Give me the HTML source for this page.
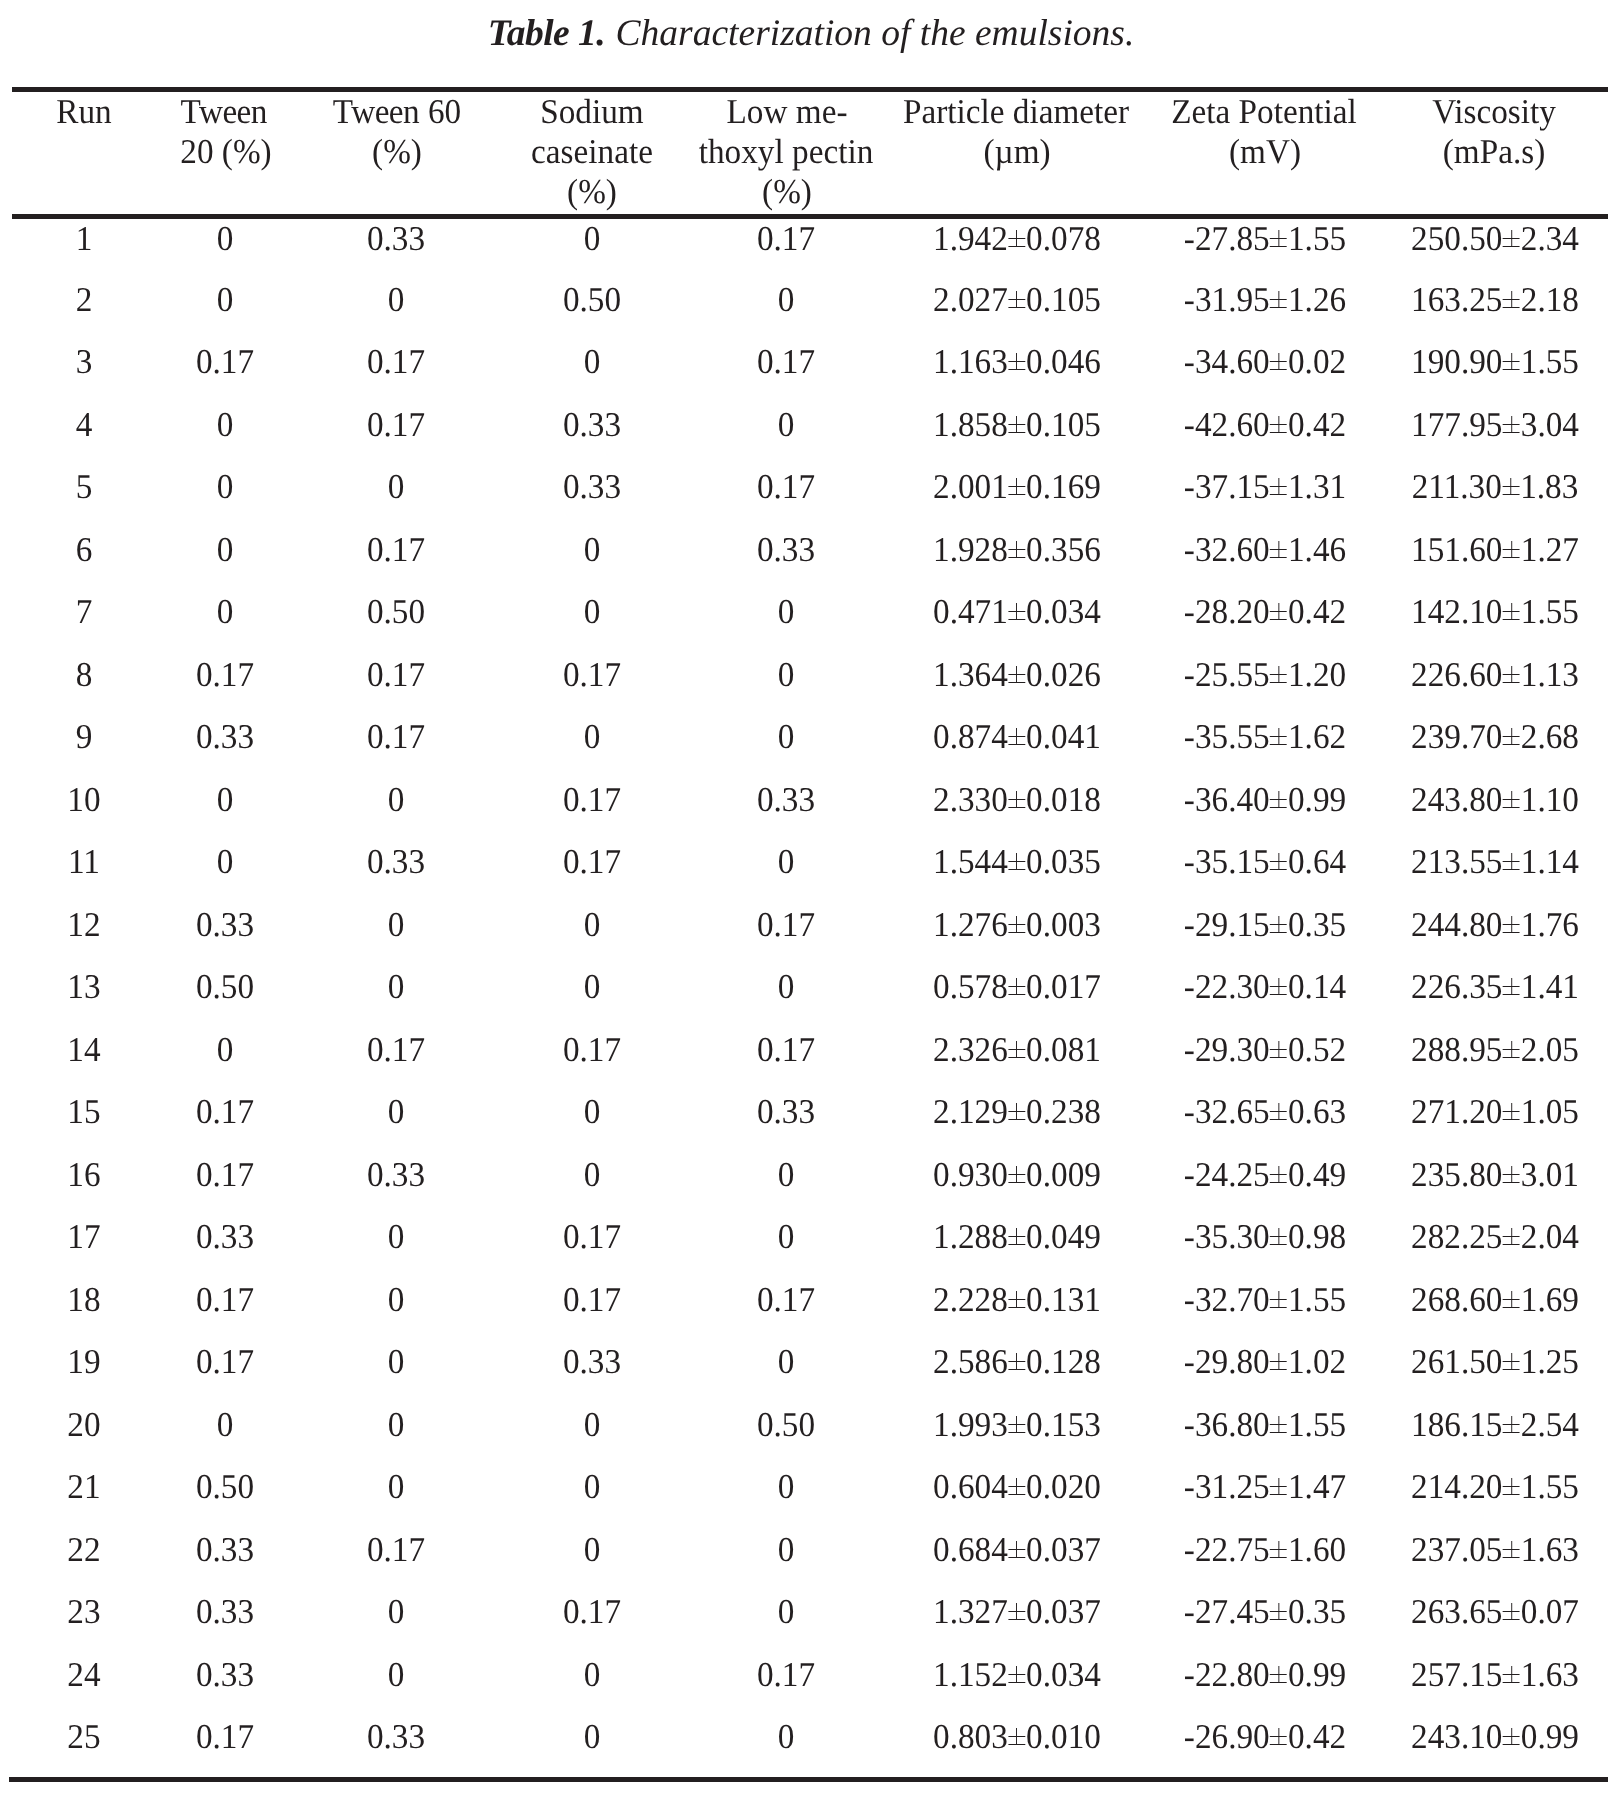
<!DOCTYPE html>
<html><head><meta charset="utf-8"><title>Table 1</title>
<style>
html,body{margin:0;padding:0;background:#fff;overflow:hidden;}
body{width:1616px;height:1817px;position:relative;overflow:hidden;
 font-family:"Liberation Serif",serif;color:#231f20;text-rendering:geometricPrecision;}
#w{position:absolute;left:0;top:0;width:1616px;height:1817px;overflow:hidden;will-change:transform;}
.t{position:absolute;width:400px;margin-left:-200px;text-align:center;white-space:nowrap;
 font-size:34.8px;line-height:41px;height:41px;transform:scaleX(0.9555);transform-origin:50% 50%;}
.r{position:absolute;background:#231f20;height:5px;}
.pm{color:transparent;background:
 linear-gradient(#231f20,#231f20) 8.7px 10.95px/1.15px 17.1px no-repeat,
 linear-gradient(#231f20,#231f20) 0.4px 18.85px/17.7px 1.1px no-repeat,
 linear-gradient(#231f20,#231f20) 0.4px 26.95px/17.7px 1.1px no-repeat;}
#cap{position:absolute;left:3px;width:1616px;text-align:center;white-space:nowrap;
 font-size:37.5px;line-height:44px;top:12px;font-style:italic;}
#cap b{font-weight:bold;letter-spacing:-0.5px;margin-right:1px;}
</style></head><body><div id="w">
<div id="cap"><b>Table 1.</b> Characterization of the emulsions.</div>
<div class="r" style="left:12px;top:87px;width:1596px"></div>
<div class="r" style="left:12px;top:214px;width:1596px"></div>
<div class="r" style="left:9px;top:1777px;width:1599px"></div>
<div class="t" style="left:84.1px;top:91.00px">Run</div>
<div class="t" style="left:223.9px;top:91.00px"><span style="letter-spacing:-2px">T</span><span style="letter-spacing:-0.6px">wee</span>n</div>
<div class="t" style="left:225.7px;top:131.00px">20 (%)</div>
<div class="t" style="left:396.5px;top:91.00px"><span style="letter-spacing:-2px">T</span><span style="letter-spacing:-0.6px">wee</span>n 60</div>
<div class="t" style="left:396.9px;top:131.00px">(%)</div>
<div class="t" style="left:591.8px;top:91.00px">Sodium</div>
<div class="t" style="left:592.2px;top:131.00px">caseinate</div>
<div class="t" style="left:592.1px;top:171.00px">(%)</div>
<div class="t" style="left:786.7px;top:91.00px">Low me-</div>
<div class="t" style="left:786.4px;top:131.00px">thoxyl pectin</div>
<div class="t" style="left:787.4px;top:171.00px">(%)</div>
<div class="t" style="left:1016.3px;top:91.00px">Particle diameter</div>
<div class="t" style="left:1017.0px;top:131.00px">(µm)</div>
<div class="t" style="left:1264.3px;top:91.00px">Zeta Potential</div>
<div class="t" style="left:1265.0px;top:131.00px">(mV)</div>
<div class="t" style="left:1494.2px;top:91.00px">Viscosity</div>
<div class="t" style="left:1494.3px;top:131.00px">(mPa.s)</div>
<div class="t" style="left:83.7px;top:218.00px">1</div>
<div class="t" style="left:225.0px;top:218.00px">0</div>
<div class="t" style="left:396.0px;top:218.00px">0.33</div>
<div class="t" style="left:592.2px;top:218.00px">0</div>
<div class="t" style="left:786.0px;top:218.00px">0.17</div>
<div class="t" style="left:1017.0px;top:218.00px">1.942<span class="pm">±</span>0.078</div>
<div class="t" style="left:1265.0px;top:218.00px">-27.85<span class="pm">±</span>1.55</div>
<div class="t" style="left:1495.0px;top:218.00px">250.50<span class="pm">±</span>2.34</div>
<div class="t" style="left:83.7px;top:279.00px">2</div>
<div class="t" style="left:225.0px;top:279.00px">0</div>
<div class="t" style="left:396.0px;top:279.00px">0</div>
<div class="t" style="left:592.2px;top:279.00px">0.50</div>
<div class="t" style="left:786.0px;top:279.00px">0</div>
<div class="t" style="left:1017.0px;top:279.00px">2.027<span class="pm">±</span>0.105</div>
<div class="t" style="left:1265.0px;top:279.00px">-31.95<span class="pm">±</span>1.26</div>
<div class="t" style="left:1495.0px;top:279.00px">163.25<span class="pm">±</span>2.18</div>
<div class="t" style="left:83.7px;top:341.00px">3</div>
<div class="t" style="left:225.0px;top:341.00px">0.17</div>
<div class="t" style="left:396.0px;top:341.00px">0.17</div>
<div class="t" style="left:592.2px;top:341.00px">0</div>
<div class="t" style="left:786.0px;top:341.00px">0.17</div>
<div class="t" style="left:1017.0px;top:341.00px">1.163<span class="pm">±</span>0.046</div>
<div class="t" style="left:1265.0px;top:341.00px">-34.60<span class="pm">±</span>0.02</div>
<div class="t" style="left:1495.0px;top:341.00px">190.90<span class="pm">±</span>1.55</div>
<div class="t" style="left:83.7px;top:404.00px">4</div>
<div class="t" style="left:225.0px;top:404.00px">0</div>
<div class="t" style="left:396.0px;top:404.00px">0.17</div>
<div class="t" style="left:592.2px;top:404.00px">0.33</div>
<div class="t" style="left:786.0px;top:404.00px">0</div>
<div class="t" style="left:1017.0px;top:404.00px">1.858<span class="pm">±</span>0.105</div>
<div class="t" style="left:1265.0px;top:404.00px">-42.60<span class="pm">±</span>0.42</div>
<div class="t" style="left:1495.0px;top:404.00px">177.95<span class="pm">±</span>3.04</div>
<div class="t" style="left:83.7px;top:466.00px">5</div>
<div class="t" style="left:225.0px;top:466.00px">0</div>
<div class="t" style="left:396.0px;top:466.00px">0</div>
<div class="t" style="left:592.2px;top:466.00px">0.33</div>
<div class="t" style="left:786.0px;top:466.00px">0.17</div>
<div class="t" style="left:1017.0px;top:466.00px">2.001<span class="pm">±</span>0.169</div>
<div class="t" style="left:1265.0px;top:466.00px">-37.15<span class="pm">±</span>1.31</div>
<div class="t" style="left:1495.0px;top:466.00px">211.30<span class="pm">±</span>1.83</div>
<div class="t" style="left:83.7px;top:529.00px">6</div>
<div class="t" style="left:225.0px;top:529.00px">0</div>
<div class="t" style="left:396.0px;top:529.00px">0.17</div>
<div class="t" style="left:592.2px;top:529.00px">0</div>
<div class="t" style="left:786.0px;top:529.00px">0.33</div>
<div class="t" style="left:1017.0px;top:529.00px">1.928<span class="pm">±</span>0.356</div>
<div class="t" style="left:1265.0px;top:529.00px">-32.60<span class="pm">±</span>1.46</div>
<div class="t" style="left:1495.0px;top:529.00px">151.60<span class="pm">±</span>1.27</div>
<div class="t" style="left:83.7px;top:591.00px">7</div>
<div class="t" style="left:225.0px;top:591.00px">0</div>
<div class="t" style="left:396.0px;top:591.00px">0.50</div>
<div class="t" style="left:592.2px;top:591.00px">0</div>
<div class="t" style="left:786.0px;top:591.00px">0</div>
<div class="t" style="left:1017.0px;top:591.00px">0.471<span class="pm">±</span>0.034</div>
<div class="t" style="left:1265.0px;top:591.00px">-28.20<span class="pm">±</span>0.42</div>
<div class="t" style="left:1495.0px;top:591.00px">142.10<span class="pm">±</span>1.55</div>
<div class="t" style="left:83.7px;top:654.00px">8</div>
<div class="t" style="left:225.0px;top:654.00px">0.17</div>
<div class="t" style="left:396.0px;top:654.00px">0.17</div>
<div class="t" style="left:592.2px;top:654.00px">0.17</div>
<div class="t" style="left:786.0px;top:654.00px">0</div>
<div class="t" style="left:1017.0px;top:654.00px">1.364<span class="pm">±</span>0.026</div>
<div class="t" style="left:1265.0px;top:654.00px">-25.55<span class="pm">±</span>1.20</div>
<div class="t" style="left:1495.0px;top:654.00px">226.60<span class="pm">±</span>1.13</div>
<div class="t" style="left:83.7px;top:716.00px">9</div>
<div class="t" style="left:225.0px;top:716.00px">0.33</div>
<div class="t" style="left:396.0px;top:716.00px">0.17</div>
<div class="t" style="left:592.2px;top:716.00px">0</div>
<div class="t" style="left:786.0px;top:716.00px">0</div>
<div class="t" style="left:1017.0px;top:716.00px">0.874<span class="pm">±</span>0.041</div>
<div class="t" style="left:1265.0px;top:716.00px">-35.55<span class="pm">±</span>1.62</div>
<div class="t" style="left:1495.0px;top:716.00px">239.70<span class="pm">±</span>2.68</div>
<div class="t" style="left:83.7px;top:779.00px">10</div>
<div class="t" style="left:225.0px;top:779.00px">0</div>
<div class="t" style="left:396.0px;top:779.00px">0</div>
<div class="t" style="left:592.2px;top:779.00px">0.17</div>
<div class="t" style="left:786.0px;top:779.00px">0.33</div>
<div class="t" style="left:1017.0px;top:779.00px">2.330<span class="pm">±</span>0.018</div>
<div class="t" style="left:1265.0px;top:779.00px">-36.40<span class="pm">±</span>0.99</div>
<div class="t" style="left:1495.0px;top:779.00px">243.80<span class="pm">±</span>1.10</div>
<div class="t" style="left:83.7px;top:841.00px">11</div>
<div class="t" style="left:225.0px;top:841.00px">0</div>
<div class="t" style="left:396.0px;top:841.00px">0.33</div>
<div class="t" style="left:592.2px;top:841.00px">0.17</div>
<div class="t" style="left:786.0px;top:841.00px">0</div>
<div class="t" style="left:1017.0px;top:841.00px">1.544<span class="pm">±</span>0.035</div>
<div class="t" style="left:1265.0px;top:841.00px">-35.15<span class="pm">±</span>0.64</div>
<div class="t" style="left:1495.0px;top:841.00px">213.55<span class="pm">±</span>1.14</div>
<div class="t" style="left:83.7px;top:904.00px">12</div>
<div class="t" style="left:225.0px;top:904.00px">0.33</div>
<div class="t" style="left:396.0px;top:904.00px">0</div>
<div class="t" style="left:592.2px;top:904.00px">0</div>
<div class="t" style="left:786.0px;top:904.00px">0.17</div>
<div class="t" style="left:1017.0px;top:904.00px">1.276<span class="pm">±</span>0.003</div>
<div class="t" style="left:1265.0px;top:904.00px">-29.15<span class="pm">±</span>0.35</div>
<div class="t" style="left:1495.0px;top:904.00px">244.80<span class="pm">±</span>1.76</div>
<div class="t" style="left:83.7px;top:966.00px">13</div>
<div class="t" style="left:225.0px;top:966.00px">0.50</div>
<div class="t" style="left:396.0px;top:966.00px">0</div>
<div class="t" style="left:592.2px;top:966.00px">0</div>
<div class="t" style="left:786.0px;top:966.00px">0</div>
<div class="t" style="left:1017.0px;top:966.00px">0.578<span class="pm">±</span>0.017</div>
<div class="t" style="left:1265.0px;top:966.00px">-22.30<span class="pm">±</span>0.14</div>
<div class="t" style="left:1495.0px;top:966.00px">226.35<span class="pm">±</span>1.41</div>
<div class="t" style="left:83.7px;top:1029.00px">14</div>
<div class="t" style="left:225.0px;top:1029.00px">0</div>
<div class="t" style="left:396.0px;top:1029.00px">0.17</div>
<div class="t" style="left:592.2px;top:1029.00px">0.17</div>
<div class="t" style="left:786.0px;top:1029.00px">0.17</div>
<div class="t" style="left:1017.0px;top:1029.00px">2.326<span class="pm">±</span>0.081</div>
<div class="t" style="left:1265.0px;top:1029.00px">-29.30<span class="pm">±</span>0.52</div>
<div class="t" style="left:1495.0px;top:1029.00px">288.95<span class="pm">±</span>2.05</div>
<div class="t" style="left:83.7px;top:1091.00px">15</div>
<div class="t" style="left:225.0px;top:1091.00px">0.17</div>
<div class="t" style="left:396.0px;top:1091.00px">0</div>
<div class="t" style="left:592.2px;top:1091.00px">0</div>
<div class="t" style="left:786.0px;top:1091.00px">0.33</div>
<div class="t" style="left:1017.0px;top:1091.00px">2.129<span class="pm">±</span>0.238</div>
<div class="t" style="left:1265.0px;top:1091.00px">-32.65<span class="pm">±</span>0.63</div>
<div class="t" style="left:1495.0px;top:1091.00px">271.20<span class="pm">±</span>1.05</div>
<div class="t" style="left:83.7px;top:1154.00px">16</div>
<div class="t" style="left:225.0px;top:1154.00px">0.17</div>
<div class="t" style="left:396.0px;top:1154.00px">0.33</div>
<div class="t" style="left:592.2px;top:1154.00px">0</div>
<div class="t" style="left:786.0px;top:1154.00px">0</div>
<div class="t" style="left:1017.0px;top:1154.00px">0.930<span class="pm">±</span>0.009</div>
<div class="t" style="left:1265.0px;top:1154.00px">-24.25<span class="pm">±</span>0.49</div>
<div class="t" style="left:1495.0px;top:1154.00px">235.80<span class="pm">±</span>3.01</div>
<div class="t" style="left:83.7px;top:1216.00px">17</div>
<div class="t" style="left:225.0px;top:1216.00px">0.33</div>
<div class="t" style="left:396.0px;top:1216.00px">0</div>
<div class="t" style="left:592.2px;top:1216.00px">0.17</div>
<div class="t" style="left:786.0px;top:1216.00px">0</div>
<div class="t" style="left:1017.0px;top:1216.00px">1.288<span class="pm">±</span>0.049</div>
<div class="t" style="left:1265.0px;top:1216.00px">-35.30<span class="pm">±</span>0.98</div>
<div class="t" style="left:1495.0px;top:1216.00px">282.25<span class="pm">±</span>2.04</div>
<div class="t" style="left:83.7px;top:1279.00px">18</div>
<div class="t" style="left:225.0px;top:1279.00px">0.17</div>
<div class="t" style="left:396.0px;top:1279.00px">0</div>
<div class="t" style="left:592.2px;top:1279.00px">0.17</div>
<div class="t" style="left:786.0px;top:1279.00px">0.17</div>
<div class="t" style="left:1017.0px;top:1279.00px">2.228<span class="pm">±</span>0.131</div>
<div class="t" style="left:1265.0px;top:1279.00px">-32.70<span class="pm">±</span>1.55</div>
<div class="t" style="left:1495.0px;top:1279.00px">268.60<span class="pm">±</span>1.69</div>
<div class="t" style="left:83.7px;top:1341.00px">19</div>
<div class="t" style="left:225.0px;top:1341.00px">0.17</div>
<div class="t" style="left:396.0px;top:1341.00px">0</div>
<div class="t" style="left:592.2px;top:1341.00px">0.33</div>
<div class="t" style="left:786.0px;top:1341.00px">0</div>
<div class="t" style="left:1017.0px;top:1341.00px">2.586<span class="pm">±</span>0.128</div>
<div class="t" style="left:1265.0px;top:1341.00px">-29.80<span class="pm">±</span>1.02</div>
<div class="t" style="left:1495.0px;top:1341.00px">261.50<span class="pm">±</span>1.25</div>
<div class="t" style="left:83.7px;top:1404.00px">20</div>
<div class="t" style="left:225.0px;top:1404.00px">0</div>
<div class="t" style="left:396.0px;top:1404.00px">0</div>
<div class="t" style="left:592.2px;top:1404.00px">0</div>
<div class="t" style="left:786.0px;top:1404.00px">0.50</div>
<div class="t" style="left:1017.0px;top:1404.00px">1.993<span class="pm">±</span>0.153</div>
<div class="t" style="left:1265.0px;top:1404.00px">-36.80<span class="pm">±</span>1.55</div>
<div class="t" style="left:1495.0px;top:1404.00px">186.15<span class="pm">±</span>2.54</div>
<div class="t" style="left:83.7px;top:1466.00px">21</div>
<div class="t" style="left:225.0px;top:1466.00px">0.50</div>
<div class="t" style="left:396.0px;top:1466.00px">0</div>
<div class="t" style="left:592.2px;top:1466.00px">0</div>
<div class="t" style="left:786.0px;top:1466.00px">0</div>
<div class="t" style="left:1017.0px;top:1466.00px">0.604<span class="pm">±</span>0.020</div>
<div class="t" style="left:1265.0px;top:1466.00px">-31.25<span class="pm">±</span>1.47</div>
<div class="t" style="left:1495.0px;top:1466.00px">214.20<span class="pm">±</span>1.55</div>
<div class="t" style="left:83.7px;top:1529.00px">22</div>
<div class="t" style="left:225.0px;top:1529.00px">0.33</div>
<div class="t" style="left:396.0px;top:1529.00px">0.17</div>
<div class="t" style="left:592.2px;top:1529.00px">0</div>
<div class="t" style="left:786.0px;top:1529.00px">0</div>
<div class="t" style="left:1017.0px;top:1529.00px">0.684<span class="pm">±</span>0.037</div>
<div class="t" style="left:1265.0px;top:1529.00px">-22.75<span class="pm">±</span>1.60</div>
<div class="t" style="left:1495.0px;top:1529.00px">237.05<span class="pm">±</span>1.63</div>
<div class="t" style="left:83.7px;top:1591.00px">23</div>
<div class="t" style="left:225.0px;top:1591.00px">0.33</div>
<div class="t" style="left:396.0px;top:1591.00px">0</div>
<div class="t" style="left:592.2px;top:1591.00px">0.17</div>
<div class="t" style="left:786.0px;top:1591.00px">0</div>
<div class="t" style="left:1017.0px;top:1591.00px">1.327<span class="pm">±</span>0.037</div>
<div class="t" style="left:1265.0px;top:1591.00px">-27.45<span class="pm">±</span>0.35</div>
<div class="t" style="left:1495.0px;top:1591.00px">263.65<span class="pm">±</span>0.07</div>
<div class="t" style="left:83.7px;top:1654.00px">24</div>
<div class="t" style="left:225.0px;top:1654.00px">0.33</div>
<div class="t" style="left:396.0px;top:1654.00px">0</div>
<div class="t" style="left:592.2px;top:1654.00px">0</div>
<div class="t" style="left:786.0px;top:1654.00px">0.17</div>
<div class="t" style="left:1017.0px;top:1654.00px">1.152<span class="pm">±</span>0.034</div>
<div class="t" style="left:1265.0px;top:1654.00px">-22.80<span class="pm">±</span>0.99</div>
<div class="t" style="left:1495.0px;top:1654.00px">257.15<span class="pm">±</span>1.63</div>
<div class="t" style="left:83.7px;top:1716.00px">25</div>
<div class="t" style="left:225.0px;top:1716.00px">0.17</div>
<div class="t" style="left:396.0px;top:1716.00px">0.33</div>
<div class="t" style="left:592.2px;top:1716.00px">0</div>
<div class="t" style="left:786.0px;top:1716.00px">0</div>
<div class="t" style="left:1017.0px;top:1716.00px">0.803<span class="pm">±</span>0.010</div>
<div class="t" style="left:1265.0px;top:1716.00px">-26.90<span class="pm">±</span>0.42</div>
<div class="t" style="left:1495.0px;top:1716.00px">243.10<span class="pm">±</span>0.99</div>
</div></body></html>
